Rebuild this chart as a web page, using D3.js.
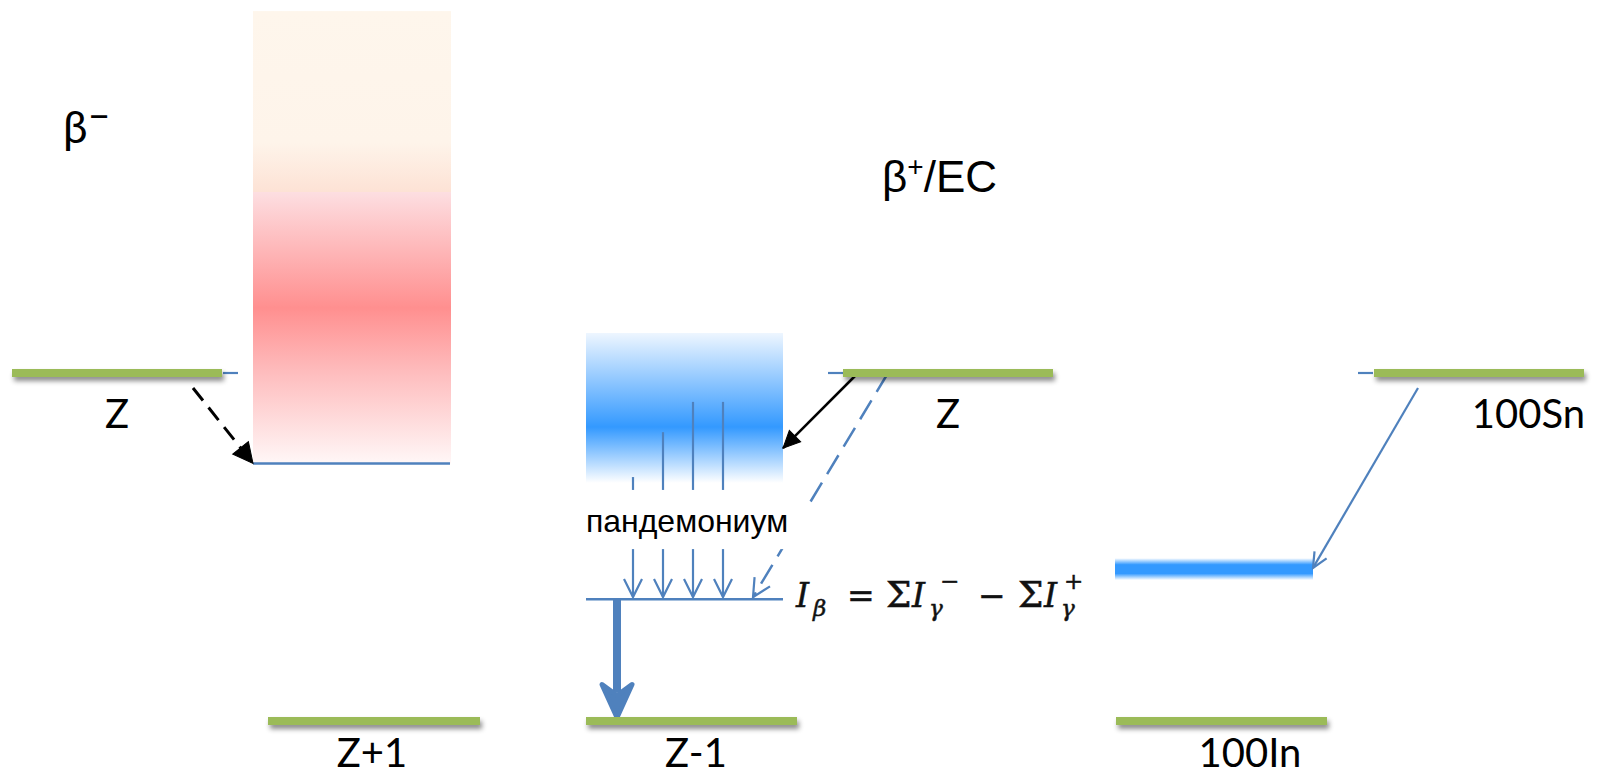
<!DOCTYPE html>
<html>
<head>
<meta charset="utf-8">
<title>beta decay levels</title>
<script src="https://d3js.org/d3.v7.min.js"></script>
<style type="text/css">
	body{ margin:0; background:white; }
	.label{ font-family: Lato, "Open Sans", sans-serif; font-size:40px; fill:black; }
	.arial{ font-family: "Liberation Sans", Arial, sans-serif; fill:black; }
	.formula{ font-family: "DejaVu Serif", "Liberation Serif", serif; font-size:33px; fill:#111; stroke:#111; stroke-width:0.5; }
	.level{ fill:#9BBB59; }
	.thin{ stroke:#4F81BD; stroke-width:2.2; fill:none; }
</style>
</head>
<body>
<svg id="chart" width="1599" height="778"></svg>
<script>
// energy levels: name, energy (arbitrary units), x extent in px
var levelNames = ["Z", "Z+1", "Z", "Z-1", "100Sn", "100In"];
var levelE = [10, 0, 10, 0, 10, 0];
var levelX = [[12, 222], [268, 480], [843, 1053], [586, 797], [1374, 1584], [1116, 1327]];
var labelX = [117, 372, 948, 696, 1585, 1250];
var labelAnchor = ["middle", "middle", "middle", "middle", "end", "middle"];

// small blue stubs at parent levels
var stubX = [[223, 238], [828, 843], [1358, 1373]];

// continua / broad levels
var bandNames = ["betaMinus", "pandemonium", "in100"];
var bandX = [[253, 451], [586, 783], [1115, 1313]];
var bandE = [[7.4, 20.4], [6.84, 11.15], [4.05, 4.68]];

// thin level lines
var lineX = [[253, 450], [586, 783]];
var lineE = [7.4, 3.5];

// gamma cascade inside pandemonium
var gammaX = [633, 663, 693, 723];
var gammaTop = [7.01, 8.3, 9.17, 9.17];
var gammaBottom = 3.56;

// feeding transitions [x0, E0, x1, E1]
var betaMinusFeed = [193, 9.57, 253, 7.4];
var ecFeed = [858, 10, 783, 7.84];
var directFeed = [888, 10, 753, 3.56];
var snFeed = [1418, 9.57, 1313, 4.4];
var strongGamma = [617, 3.5, 617, 0.1];

// white box behind pandemonium label
var textBoxX = [586, 808];
var textBoxE = [4.94, 6.64];

var svg = d3.select("#chart");
var x = d3.scaleLinear().domain([0, 1599]).range([0, 1599]);
var y = d3.scaleLinear().domain([0, 10]).range([721, 373]);

var defs = svg.append("defs");

var shadow = defs.append("filter").attr("id", "shadow")
	.attr("x", "-5%").attr("y", "-100%").attr("width", "110%").attr("height", "400%");
shadow.append("feDropShadow").attr("dx", 2).attr("dy", 4)
	.attr("stdDeviation", 2.5).attr("flood-color", "#000").attr("flood-opacity", 0.45);

function grad(id, stops){
	var g = defs.append("linearGradient").attr("id", id)
		.attr("x1", 0).attr("y1", 0).attr("x2", 0).attr("y2", 1);
	stops.forEach(function(s){
		g.append("stop").attr("offset", s[0]).attr("stop-color", s[1]);
	});
}
grad("betaMinus", [[0, "#FEF6EC"], [0.29, "#FEF4EA"], [0.40, "#FDE2D5"], [0.401, "#FDDEE1"],
	[0.656, "#FF8F8F"], [0.8, "#FEBDBE"], [1, "#FFF7F7"]]);
grad("pandemonium", [[0, "#EEF6FF"], [0.627, "#3399FF"], [1, "#FFFFFF"]]);
grad("in100", [[0, "#FFFFFF"], [0.3, "#3399FF"], [0.7, "#3399FF"], [1, "#FFFFFF"]]);

function marker(id, path, color, filled){
	defs.append("marker").attr("id", id)
		.attr("viewBox", "-24 -14 26 28").attr("refX", 0).attr("refY", 0)
		.attr("markerWidth", 26).attr("markerHeight", 28)
		.attr("markerUnits", "userSpaceOnUse").attr("orient", "auto")
		.append("path").attr("d", path)
		.attr("fill", filled ? color : "none")
		.attr("stroke", color).attr("stroke-width", filled ? 1 : 2.2);
}
marker("openBlue", "M-18,-9L0,0L-18,9", "#4F81BD", false);
marker("openBlueSmall", "M-15,-7L0,0L-15,7", "#4F81BD", false);
marker("blackBig", "M-20,-10L0,0L-20,10Z", "black", true);
marker("black", "M-17,-8L0,0L-17,8Z", "black", true);

// bands
svg.selectAll("rect.band").data(bandNames).enter().append("rect")
	.attr("class", "band")
	.attr("x", function(d, i){ return x(bandX[i][0]); })
	.attr("width", function(d, i){ return x(bandX[i][1]) - x(bandX[i][0]); })
	.attr("y", function(d, i){ return y(bandE[i][1]); })
	.attr("height", function(d, i){ return y(bandE[i][0]) - y(bandE[i][1]); })
	.attr("fill", function(d){ return "url(#" + d + ")"; });

// thin level lines
svg.selectAll("line.lvl").data(lineE).enter().append("line")
	.attr("class", "thin")
	.attr("x1", function(d, i){ return x(lineX[i][0]); })
	.attr("x2", function(d, i){ return x(lineX[i][1]); })
	.attr("y1", function(d){ return y(d); })
	.attr("y2", function(d){ return y(d); })
	.style("stroke-width", 2.5);

// stubs
svg.selectAll("line.stub").data(stubX).enter().append("line")
	.attr("class", "thin")
	.attr("x1", function(d){ return x(d[0]); })
	.attr("x2", function(d){ return x(d[1]); })
	.attr("y1", y(10)).attr("y2", y(10));

// gamma cascade
svg.selectAll("line.gamma").data(gammaX).enter().append("line")
	.attr("class", "thin")
	.attr("x1", function(d){ return x(d); })
	.attr("x2", function(d){ return x(d); })
	.attr("y1", function(d, i){ return y(gammaTop[i]); })
	.attr("y2", y(gammaBottom))
	.attr("marker-end", "url(#openBlue)");

function arrow(t, cls, mk){
	return svg.append("line")
		.attr("x1", x(t[0])).attr("y1", y(t[1]))
		.attr("x2", x(t[2])).attr("y2", y(t[3]))
		.attr("class", cls)
		.attr("marker-end", "url(#" + mk + ")");
}
arrow(directFeed, "thin", "openBlue").style("stroke-dasharray", "22,10").style("stroke-width", 2.5);
arrow(snFeed, "thin", "openBlueSmall");
arrow(ecFeed, "", "black").attr("stroke", "black").attr("stroke-width", 2.5);
arrow(betaMinusFeed, "", "blackBig").attr("stroke", "black").attr("stroke-width", 3)
	.attr("stroke-dasharray", "16,9");

// white box of the pandemonium label
svg.append("rect")
	.attr("x", x(textBoxX[0])).attr("width", x(textBoxX[1]) - x(textBoxX[0]))
	.attr("y", y(textBoxE[1])).attr("height", y(textBoxE[0]) - y(textBoxE[1]))
	.attr("fill", "white");

// strong gamma to ground state
var gx = x(strongGamma[0]), gy0 = y(strongGamma[1]), gy1 = y(strongGamma[3]);
svg.append("line")
	.attr("x1", gx).attr("x2", gx).attr("y1", gy0).attr("y2", gy1 - 25)
	.attr("stroke", "#4F81BD").attr("stroke-width", 8);
svg.append("path")
	.attr("d", "M" + (gx - 15) + "," + (gy1 - 33) + "L" + gx + "," + gy1 + "L" + (gx + 15) + "," + (gy1 - 33) +
		"L" + gx + "," + (gy1 - 22) + "Z")
	.attr("fill", "#4F81BD").attr("stroke", "#4F81BD")
	.attr("stroke-width", 5).attr("stroke-linejoin", "round");

// nuclear levels (green)
svg.selectAll("rect.level").data(levelNames).enter().append("rect")
	.attr("class", "level")
	.attr("x", function(d, i){ return x(levelX[i][0]); })
	.attr("width", function(d, i){ return x(levelX[i][1]) - x(levelX[i][0]); })
	.attr("y", function(d, i){ return y(levelE[i]) - 4; })
	.attr("height", 8)
	.attr("filter", "url(#shadow)");

svg.selectAll("text.lvlname").data(levelNames).enter().append("text")
	.attr("class", "label")
	.attr("x", function(d, i){ return x(labelX[i]); })
	.attr("y", function(d, i){ return y(levelE[i]) + (levelE[i] > 0 ? 55 : 46); })
	.attr("text-anchor", function(d, i){ return labelAnchor[i]; })
	.text(function(d){ return d; });

// titles
var bm = svg.append("text").attr("class", "label").attr("x", 63).attr("y", 143)
	.style("font-size", "44px").text("β");
bm.append("tspan").attr("dy", -14).style("font-size", "40px").text("–");

var bp = svg.append("text").attr("class", "arial").attr("x", 882).attr("y", 192)
	.style("font-size", "44px").text("β");
bp.append("tspan").attr("dy", -16).style("font-size", "28px").text("+");
bp.append("tspan").attr("dy", 16).text("/EC");

svg.append("text").attr("class", "arial").attr("x", 687).attr("y", 532)
	.attr("text-anchor", "middle").style("font-size", "32px").text("пандемониум");

// I_beta = sum I_gamma^- - sum I_gamma^+
var f = svg.append("text").attr("class", "formula").attr("x", 796).attr("y", 607);
f.append("tspan").style("font-style", "italic").text("I");
f.append("tspan").attr("x", 813).attr("dy", 9).style("font-style", "italic").style("font-size", "23px").text("β");
f.append("tspan").attr("x", 847).attr("dy", -9).text("=");
f.append("tspan").attr("x", 886).style("font-size", "36px").text("Σ");
f.append("tspan").attr("x", 912).style("font-style", "italic").text("I");
f.append("tspan").attr("x", 929).attr("dy", 9).style("font-style", "italic").style("font-size", "23px").text("γ");
f.append("tspan").attr("x", 940).attr("dy", -27).style("font-size", "23px").text("−");
f.append("tspan").attr("x", 978).attr("dy", 18).text("−");
f.append("tspan").attr("x", 1018).style("font-size", "36px").text("Σ");
f.append("tspan").attr("x", 1044).style("font-style", "italic").text("I");
f.append("tspan").attr("x", 1061).attr("dy", 9).style("font-style", "italic").style("font-size", "23px").text("γ");
f.append("tspan").attr("x", 1064).attr("dy", -27).style("font-size", "23px").text("+");
</script>
</body>
</html>
